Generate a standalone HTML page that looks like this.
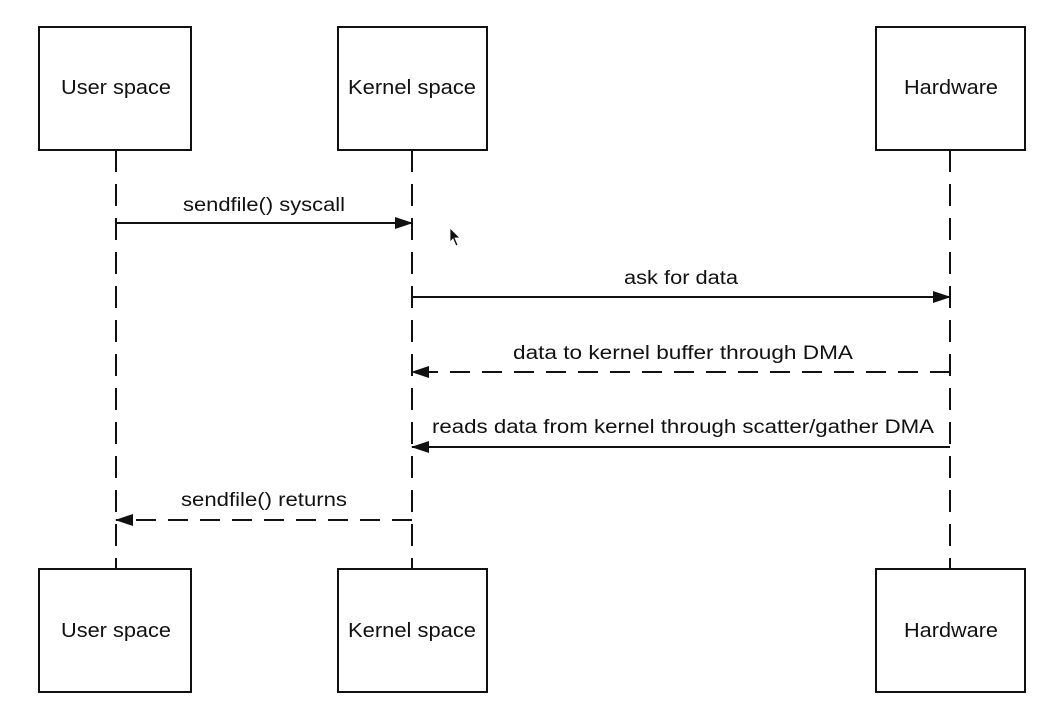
<!DOCTYPE html>
<html><head><style>
html,body{margin:0;padding:0;background:#fff;}
</style></head><body>
<svg width="1043" height="709" xmlns="http://www.w3.org/2000/svg" font-family="Liberation Sans, Arial, sans-serif">
<defs>
<marker id="ah" markerWidth="18" markerHeight="12" refX="17" refY="6" orient="auto" markerUnits="userSpaceOnUse">
<path d="M0,0 L18,6 L0,12 Z" fill="#111"/>
</marker>
</defs>
<g stroke="#111" stroke-width="2" stroke-dasharray="22,12" fill="none">
<line x1="116" y1="150" x2="116" y2="569"/>
<line x1="412" y1="150" x2="412" y2="569"/>
<line x1="950" y1="150" x2="950" y2="569"/>
</g>
<g stroke="#111" stroke-width="2" fill="#fff">
<rect x="39" y="27" width="152" height="123"/>
<rect x="338" y="27" width="149" height="123"/>
<rect x="876" y="27" width="149" height="123"/>
<rect x="39" y="569" width="152" height="123"/>
<rect x="338" y="569" width="149" height="123"/>
<rect x="876" y="569" width="149" height="123"/>
</g>
<g font-size="20" fill="#111" text-anchor="middle" lengthAdjust="spacingAndGlyphs">
<text x="116" y="94" textLength="110" lengthAdjust="spacingAndGlyphs">User space</text>
<text x="412" y="94" textLength="128" lengthAdjust="spacingAndGlyphs">Kernel space</text>
<text x="951" y="94" textLength="94" lengthAdjust="spacingAndGlyphs">Hardware</text>
<text x="116" y="637" textLength="110" lengthAdjust="spacingAndGlyphs">User space</text>
<text x="412" y="637" textLength="128" lengthAdjust="spacingAndGlyphs">Kernel space</text>
<text x="951" y="637" textLength="94" lengthAdjust="spacingAndGlyphs">Hardware</text>
</g>
<g stroke="#111" stroke-width="2" fill="none">
<line x1="116" y1="223" x2="412" y2="223" marker-end="url(#ah)"/>
<line x1="412" y1="297" x2="950" y2="297" marker-end="url(#ah)"/>
<line x1="950" y1="372" x2="412" y2="372" stroke-dasharray="20,12" marker-end="url(#ah)"/>
<line x1="950" y1="447" x2="412" y2="447" marker-end="url(#ah)"/>
<line x1="412" y1="520" x2="116" y2="520" stroke-dasharray="20,12" marker-end="url(#ah)"/>
</g>
<g font-size="19" fill="#111" text-anchor="middle">
<text x="264" y="211" textLength="162" lengthAdjust="spacingAndGlyphs">sendfile() syscall</text>
<text x="681" y="284" textLength="114" lengthAdjust="spacingAndGlyphs">ask for data</text>
<text x="683" y="359" textLength="340" lengthAdjust="spacingAndGlyphs">data to kernel buffer through DMA</text>
<text x="683" y="433" textLength="502" lengthAdjust="spacingAndGlyphs">reads data from kernel through scatter/gather DMA</text>
<text x="264" y="506" textLength="166" lengthAdjust="spacingAndGlyphs">sendfile() returns</text>
</g>
<path d="M450,228 L450,242 L453,239 L456,246 L458,245 L455,238 L460,238 Z" fill="#111" stroke="#fff" stroke-width="0.8"/>
</svg>
</body></html>
